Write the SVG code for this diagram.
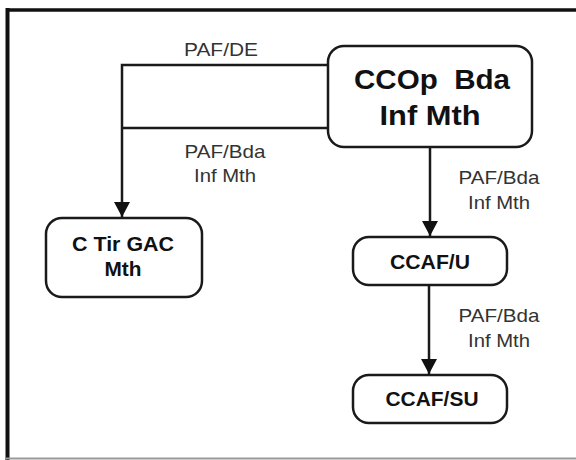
<svg xmlns="http://www.w3.org/2000/svg" width="576" height="460" viewBox="0 0 576 460">
<defs>
<style>
.node{fill:#fff;stroke:#1a1a1a;stroke-width:2.5}
.nt{font-family:"Liberation Sans",Arial,sans-serif;font-weight:bold;fill:#111;text-anchor:middle}
.lb{font-family:"Liberation Sans",Arial,sans-serif;font-size:18.5px;fill:#333;text-anchor:middle}
.conn{fill:none;stroke:#1a1a1a;stroke-width:2.5}
</style>
<marker id="arr" viewBox="0 0 15 16" refX="15" refY="8" markerWidth="15" markerHeight="16" markerUnits="userSpaceOnUse" orient="auto">
<path d="M0,0 L15,8 L0,16 z" fill="#111"/>
</marker>
</defs>
<rect x="0" y="0" width="576" height="460" fill="#fff"/>
<g id="frame">
<line x1="6" y1="10" x2="576" y2="10" stroke="#111" stroke-width="3.5"/>
<line x1="7.5" y1="8" x2="7.5" y2="460" stroke="#111" stroke-width="4"/>
<line x1="6" y1="458.5" x2="576" y2="458.5" stroke="#999" stroke-width="2"/>
</g>
<g id="connectors">
<path class="conn" d="M330,65 H122 V217" marker-end="url(#arr)"/>
<path class="conn" d="M330,128 H122"/>
<path class="conn" d="M430,147 V236" marker-end="url(#arr)"/>
<path class="conn" d="M429,285 V374" marker-end="url(#arr)"/>
<text class="lb" x="221" y="56" textLength="74" lengthAdjust="spacingAndGlyphs">PAF/DE</text>
<text class="lb" x="225" y="158" textLength="81" lengthAdjust="spacingAndGlyphs">PAF/Bda</text>
<text class="lb" x="225" y="182" textLength="62" lengthAdjust="spacingAndGlyphs">Inf Mth</text>
<text class="lb" x="499" y="184" textLength="81" lengthAdjust="spacingAndGlyphs">PAF/Bda</text>
<text class="lb" x="499" y="209" textLength="62" lengthAdjust="spacingAndGlyphs">Inf Mth</text>
<text class="lb" x="499" y="322" textLength="81" lengthAdjust="spacingAndGlyphs">PAF/Bda</text>
<text class="lb" x="499" y="347" textLength="62" lengthAdjust="spacingAndGlyphs">Inf Mth</text>
</g>
<g id="ccop">
<rect class="node" x="328" y="46" width="204" height="101" rx="16"/>
<text class="nt" x="432" y="89" font-size="28" textLength="156" lengthAdjust="spacingAndGlyphs">CCOp&#160; Bda</text>
<text class="nt" x="430" y="125" font-size="28" textLength="101" lengthAdjust="spacingAndGlyphs">Inf Mth</text>
</g>
<g id="ctir">
<rect class="node" x="46" y="218" width="156" height="79" rx="16"/>
<text class="nt" x="123" y="251" font-size="20" textLength="102" lengthAdjust="spacingAndGlyphs">C Tir GAC</text>
<text class="nt" x="123" y="276" font-size="20" textLength="37" lengthAdjust="spacingAndGlyphs">Mth</text>
</g>
<g id="ccafu">
<rect class="node" x="353" y="237" width="154" height="48" rx="16"/>
<text class="nt" x="430" y="269" font-size="20" textLength="80" lengthAdjust="spacingAndGlyphs">CCAF/U</text>
</g>
<g id="ccafsu">
<rect class="node" x="353" y="375" width="154" height="48" rx="16"/>
<text class="nt" x="432" y="406" font-size="20" textLength="93" lengthAdjust="spacingAndGlyphs">CCAF/SU</text>
</g>
</svg>
